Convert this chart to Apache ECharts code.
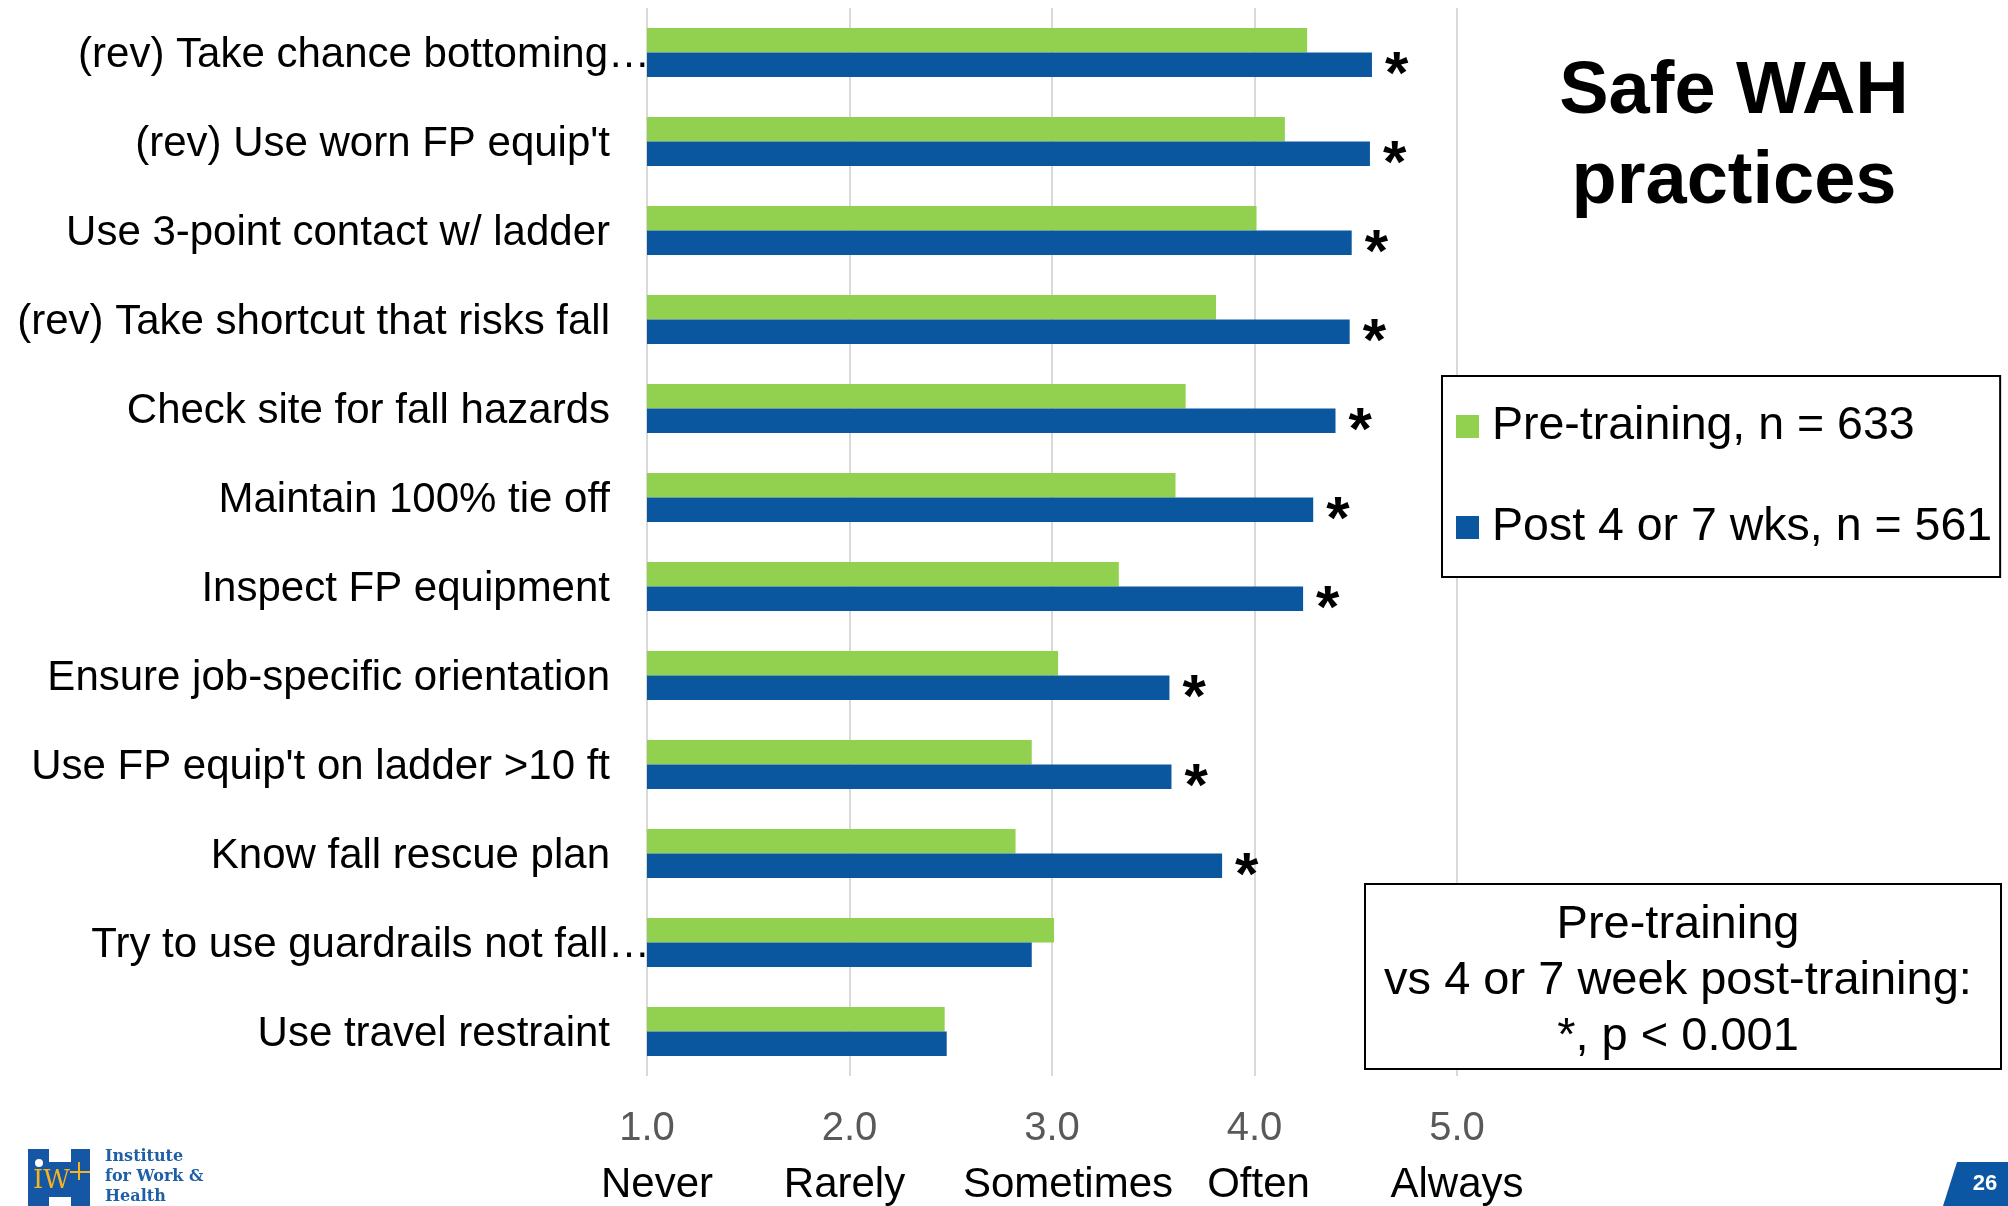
<!DOCTYPE html>
<html>
<head>
<meta charset="utf-8">
<script src="https://cdn.jsdelivr.net/npm/echarts@6/dist/echarts.min.js"></script>
<style>
html,body{margin:0;padding:0;background:#fff;}
#chart{width:2008px;height:1206px;}
</style>
</head>
<body>
<div id="chart"></div>
<script>
// ---- data ----
var categories = [
  "(rev) Take chance bottoming\u2026",
  "(rev) Use worn FP equip't",
  "Use 3-point contact w/ ladder",
  "(rev) Take shortcut that risks fall",
  "Check site for fall hazards",
  "Maintain 100% tie off",
  "Inspect FP equipment",
  "Ensure job-specific orientation",
  "Use FP equip't on ladder >10 ft",
  "Know fall rescue plan",
  "Try to use guardrails not fall\u2026",
  "Use travel restraint"
];
var seriesNames = ["Pre-training, n = 633", "Post 4 or 7 wks, n = 561"];
var preValues  = [4.26, 4.15, 4.01, 3.81, 3.66, 3.61, 3.33, 3.03, 2.90, 2.82, 3.01, 2.47];
var postValues = [4.58, 4.57, 4.48, 4.47, 4.40, 4.29, 4.24, 3.58, 3.59, 3.84, 2.90, 2.48];
var significant = [true, true, true, true, true, true, true, true, true, true, false, false];
var xTickWords = ["Never", "Rarely", "Sometimes", "Often", "Always"];
var titleText = "Safe WAH\npractices";
var noteLines = ["Pre-training", "vs 4 or 7 week post-training:", "*, p < 0.001"];

var FONT = "'Liberation Sans', Arial, sans-serif";
var GREEN = "#92D050", BLUE = "#0A57A0";

// horizontal nudges for the word labels under the ticks (they are placed by hand in the original)
var wordPad = [[0, 0, 0, 20], [0, 10, 0, 0], [0, 0, 0, 32], [0, 0, 0, 8], [0, 0, 0, 0]];
var xRich = { n: { fontFamily: FONT, fontSize: 40, lineHeight: 50, color: '#595959' } };
wordPad.forEach(function (p, i) {
  xRich['w' + i] = { fontFamily: FONT, fontSize: 42, lineHeight: 62, color: '#000', padding: p };
});

var chart = echarts.init(document.getElementById('chart'), null, {renderer: 'canvas'});
var option = {
  backgroundColor: '#fff',
  animation: false,
  textStyle: { fontFamily: FONT },
  title: {
    text: titleText,
    left: 1734, top: 48, padding: 0,
    textAlign: 'center',
    textStyle: { fontFamily: FONT, fontSize: 74, fontWeight: 'bold', lineHeight: 90, color: '#000' }
  },
  legend: {
    orient: 'vertical',
    left: 1442, top: 376,
    padding: [27, 8, 26, 14],
    itemGap: 54,
    itemWidth: 23, itemHeight: 23,
    icon: 'rect',
    borderColor: '#000', borderWidth: 2,
    backgroundColor: '#fff',
    z: 50,
    data: seriesNames,
    textStyle: { fontFamily: FONT, fontSize: 46.5, lineHeight: 46, color: '#000', padding: [0, 0, 0, 8] }
  },
  grid: { left: 647, right: 551, top: 8, bottom: 130, containLabel: false },
  xAxis: {
    type: 'value', min: 1, max: 5, interval: 1,
    axisLine: { show: false }, axisTick: { show: false },
    splitLine: { show: true, lineStyle: { color: '#D9D9D9', width: 2 } },
    axisLabel: {
      margin: 28,
      showMinLabel: true, showMaxLabel: true,
      formatter: function (v) {
        var i = Math.round(v) - 1;
        return '{n|' + v.toFixed(1) + '}\n{w' + i + '|' + (xTickWords[i] || '') + '}';
      },
      rich: xRich
    }
  },
  yAxis: {
    type: 'category', inverse: true, data: categories,
    axisLine: { show: false }, axisTick: { show: false },
    axisLabel: {
      margin: -3,
      interval: 0,
      formatter: function (v) {
        return (v.charAt(v.length - 1) === '\u2026' ? '{e|' : '{n|') + v + '}';
      },
      rich: {
        n: { fontFamily: FONT, fontSize: 42, color: '#000', padding: [6, 40, 0, 0] },
        e: { fontFamily: FONT, fontSize: 42, color: '#000', padding: [6, 0, 0, 0] }
      }
    }
  },
  series: [
    {
      name: seriesNames[0], type: 'bar', data: preValues,
      barGap: '0%', barCategoryGap: '45%',
      itemStyle: { color: GREEN }
    },
    {
      name: seriesNames[1], type: 'bar', data: postValues,
      barGap: '0%', barCategoryGap: '45%',
      itemStyle: { color: BLUE },
      label: {
        show: true, position: 'right', distance: 13,
        formatter: function (p) { return significant[p.dataIndex] ? '*' : ''; },
        fontFamily: FONT, fontSize: 60, fontWeight: 'bold', color: '#000',
        offset: [0, 12]
      }
    }
  ],
  graphic: [
    { type: 'rect', z: 100, shape: { x: 1365, y: 884, width: 636, height: 185 },
      style: { fill: '#fff', stroke: '#000', lineWidth: 2 } },
    { type: 'text', z: 101, x: 1678, y: 981,
      style: { text: noteLines.join('\n'), fontFamily: FONT, fontSize: 47, lineHeight: 56,
               fill: '#000', align: 'center', verticalAlign: 'middle' } },

    { type: 'rect', z: 100, shape: { x: 28, y: 1149, width: 62, height: 57 }, style: { fill: '#1557A4' } },
    { type: 'rect', z: 101, shape: { x: 49, y: 1149, width: 22, height: 13 }, style: { fill: '#fff' } },
    { type: 'rect', z: 101, shape: { x: 49, y: 1197, width: 22, height: 9 }, style: { fill: '#fff' } },
    { type: 'circle', z: 101, shape: { cx: 39, cy: 1163, r: 4 }, style: { fill: '#fff' } },
    { type: 'text', z: 102, x: 33, y: 1168,
      style: { text: 'IW', fontFamily: "'DejaVu Serif', serif", fontSize: 26, fill: '#F5B41E' } },
    { type: 'rect', z: 102, shape: { x: 70, y: 1171, width: 20, height: 2 }, style: { fill: '#F5B41E' } },
    { type: 'rect', z: 102, shape: { x: 78, y: 1162, width: 2, height: 18 }, style: { fill: '#F5B41E' } },
    { type: 'text', z: 100, x: 105, y: 1147,
      style: { text: 'Institute\nfor Work &\nHealth', fontFamily: "'DejaVu Serif', serif", fontSize: 16,
               lineHeight: 20, fontWeight: 'bold', fill: '#1F5FA8' } },

    { type: 'polygon', z: 100, shape: { points: [[1957, 1162], [2008, 1162], [2008, 1206], [1943, 1206]] },
      style: { fill: '#0B57A3' } },
    { type: 'text', z: 101, x: 1985, y: 1184,
      style: { text: '26', fontFamily: FONT, fontSize: 22, fontWeight: 'bold', fill: '#fff',
               align: 'center', verticalAlign: 'middle' } }
  ]
};
chart.setOption(option);
</script>
</body>
</html>
